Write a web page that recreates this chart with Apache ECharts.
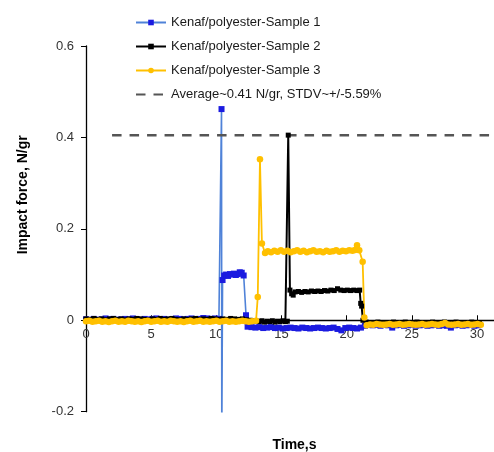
<!DOCTYPE html>
<html>
<head>
<meta charset="utf-8">
<script src="https://cdn.jsdelivr.net/npm/echarts@6/dist/echarts.min.js"></script>
<style>html,body{margin:0;padding:0;background:#fff;}#c{width:494px;height:452px;}</style>
</head>
<body>
<div id="c"></div>
<script>
// ---- data (time in s, impact force in N/gr) ----
const seriesNames = ['Kenaf/polyester-Sample 1','Kenaf/polyester-Sample 2','Kenaf/polyester-Sample 3','Average~0.41 N/gr, STDV~+/-5.59%'];
const xTicks = [0, 5, 10, 15, 20, 25, 30];
const yTicks = [-0.2, 0, 0.2, 0.4, 0.6];
const averageValue = 0.405;
const averageSpan = [2.0, 31.1];

const sample1 = [
  [0,0.002],[0.3,0.001],[0.6,0.003],[0.9,0.001],[1.2,0.002],[1.5,0.004],[1.8,0.002],[2.1,0.003],[2.4,0.001],[2.7,0.002],
  [3.0,0.003],[3.3,0.002],[3.6,0.004],[3.9,0.002],[4.2,0.001],[4.5,0.003],[4.8,0.002],[5.1,0.003],[5.4,0.004],[5.7,0.002],
  [6.0,0.003],[6.3,0.001],[6.6,0.002],[6.9,0.004],[7.2,0.003],[7.5,0.002],[7.8,0.003],[8.1,0.004],[8.4,0.002],[8.7,0.003],
  [9.0,0.005],[9.3,0.004],[9.6,0.003],[9.9,0.004],[10.2,0.003],
  [10.4,0.462],[10.42,-0.26],[10.48,0.088],[10.6,0.098],[10.75,0.1],[10.9,0.097],[11.05,0.101],[11.2,0.1],[11.35,0.102],
  [11.5,0.099],[11.65,0.101],[11.8,0.105],[11.95,0.104],[12.1,0.098],[12.28,0.011],[12.4,-0.014],
  [12.7,-0.015],[13.0,-0.016],[13.3,-0.015],[13.6,-0.017],[13.9,-0.016],[14.2,-0.015],[14.5,-0.017],[14.8,-0.016],[15.1,-0.018],
  [15.4,-0.017],[15.7,-0.016],[16.0,-0.017],[16.3,-0.018],[16.6,-0.016],[16.9,-0.017],[17.2,-0.018],[17.5,-0.017],[17.8,-0.016],
  [18.1,-0.017],[18.4,-0.018],[18.7,-0.017],[19.0,-0.016],[19.3,-0.019],[19.6,-0.022],[19.9,-0.017],[20.2,-0.016],[20.5,-0.017],
  [20.8,-0.018],[21.1,-0.016],[21.4,-0.012],[21.7,-0.010],
  [22.0,-0.011],[22.3,-0.010],[22.6,-0.012],[22.9,-0.010],[23.2,-0.011],[23.5,-0.016],[23.8,-0.011],[24.1,-0.010],[24.4,-0.012],
  [24.7,-0.011],[25.0,-0.010],[25.3,-0.012],[25.6,-0.011],[25.9,-0.010],[26.2,-0.012],[26.5,-0.011],[26.8,-0.010],[27.1,-0.012],
  [27.4,-0.011],[27.7,-0.012],[28.0,-0.016],[28.3,-0.011],[28.6,-0.010],[28.9,-0.012],[29.2,-0.011],[29.5,-0.010],[29.8,-0.012],[30.1,-0.011]
];

const sample2 = [
  [0,0.003],[0.3,0.002],[0.6,0.004],[0.9,0.002],[1.2,0.003],[1.5,0.001],[1.8,0.003],[2.1,0.004],[2.4,0.002],[2.7,0.003],
  [3.0,0.001],[3.3,0.003],[3.6,0.002],[3.9,0.004],[4.2,0.003],[4.5,0.002],[4.8,0.001],[5.1,0.003],[5.4,0.002],[5.7,0.004],
  [6.0,0.002],[6.3,0.003],[6.6,0.004],[6.9,0.002],[7.2,0.001],[7.5,0.003],[7.8,0.002],[8.1,0.003],[8.4,0.004],[8.7,0.002],
  [9.0,0.003],[9.3,0.002],[9.6,0.004],[9.9,0.003],[10.2,0.002],[10.5,0.003],[10.8,0.002],[11.1,0.004],[11.4,0.003],[11.7,0.002],
  [12.0,0.003],[12.3,0.001],[12.6,0.000],[12.9,-0.001],
  [13.1,-0.002],[13.3,-0.003],[13.5,-0.001],[13.7,-0.004],[13.9,-0.002],[14.1,-0.003],[14.3,-0.001],[14.5,-0.004],[14.7,-0.002],
  [14.9,-0.003],[15.1,-0.001],[15.3,-0.003],[15.45,-0.002],
  [15.52,0.405],[15.65,0.066],[15.78,0.058],[15.9,0.055],[16.05,0.062],[16.3,0.063],[16.55,0.061],[16.8,0.063],[17.05,0.062],
  [17.3,0.064],[17.55,0.063],[17.8,0.064],[18.05,0.063],[18.3,0.065],[18.55,0.064],[18.8,0.066],[19.05,0.065],[19.3,0.069],
  [19.55,0.066],[19.8,0.065],[20.05,0.066],[20.3,0.065],[20.55,0.066],[20.8,0.065],[21.0,0.066],
  [21.08,0.037],[21.15,0.031],[21.25,0.000],[21.5,-0.004],
  [21.8,-0.005],[22.1,-0.006],[22.4,-0.004],[22.7,-0.005],[23.0,-0.006],[23.3,-0.005],[23.6,-0.004],[23.9,-0.006],[24.2,-0.005],
  [24.5,-0.004],[24.8,-0.006],[25.1,-0.005],[25.4,-0.004],[25.7,-0.005],[26.0,-0.006],[26.3,-0.005],[26.6,-0.004],[26.9,-0.006],
  [27.2,-0.005],[27.5,-0.004],[27.8,-0.005],[28.1,-0.006],[28.4,-0.004],[28.7,-0.005],[29.0,-0.006],[29.3,-0.005],[29.6,-0.004],
  [29.9,-0.005],[30.2,-0.006]
];

const sample3 = [
  [0,-0.002],[0.25,-0.001],[0.5,-0.003],[0.75,-0.002],[1.0,-0.001],[1.25,-0.003],[1.5,-0.002],[1.75,-0.004],[2.0,-0.002],
  [2.25,-0.001],[2.5,-0.003],[2.75,-0.002],[3.0,-0.003],[3.25,-0.001],[3.5,-0.002],[3.75,-0.003],[4.0,-0.002],[4.25,-0.004],
  [4.5,-0.002],[4.75,-0.001],[5.0,-0.003],[5.25,-0.002],[5.5,-0.001],[5.75,-0.003],[6.0,-0.002],[6.25,-0.003],[6.5,-0.001],
  [6.75,-0.002],[7.0,-0.003],[7.25,-0.002],[7.5,-0.004],[7.75,-0.002],[8.0,-0.001],[8.25,-0.003],[8.5,-0.002],[8.75,-0.001],
  [9.0,-0.003],[9.25,-0.002],[9.5,-0.003],[9.75,-0.002],[10.0,-0.001],[10.25,-0.003],[10.5,-0.002],[10.75,-0.001],[11.0,-0.003],
  [11.25,-0.002],[11.5,-0.003],[11.75,-0.002],[12.0,-0.001],[12.25,-0.002],[12.5,-0.003],[12.75,-0.002],[13.05,-0.001],
  [13.18,0.051],[13.35,0.352],[13.5,0.168],[13.74,0.147],[13.95,0.151],[14.2,0.149],[14.45,0.152],[14.7,0.150],[14.95,0.153],
  [15.2,0.150],[15.45,0.152],[15.7,0.149],[15.95,0.151],[16.2,0.153],[16.45,0.150],[16.7,0.152],[16.95,0.149],[17.2,0.151],
  [17.45,0.153],[17.7,0.150],[17.95,0.151],[18.2,0.149],[18.45,0.152],[18.7,0.150],[18.95,0.151],[19.2,0.153],[19.45,0.150],
  [19.7,0.152],[19.95,0.151],[20.2,0.153],[20.45,0.152],[20.65,0.154],[20.8,0.164],[20.97,0.153],[21.23,0.128],[21.36,0.006],
  [21.54,-0.011],[21.8,-0.009],[22.05,-0.010],[22.3,-0.008],[22.55,-0.009],[22.8,-0.010],[23.05,-0.009],[23.3,-0.008],
  [23.55,-0.010],[23.8,-0.009],[24.05,-0.008],[24.3,-0.010],[24.55,-0.009],[24.8,-0.008],[25.05,-0.009],[25.3,-0.010],
  [25.55,-0.009],[25.8,-0.008],[26.05,-0.010],[26.3,-0.009],[26.55,-0.008],[26.8,-0.009],[27.05,-0.010],[27.3,-0.008],
  [27.55,-0.006],[27.8,-0.009],[28.05,-0.010],[28.3,-0.009],[28.55,-0.008],[28.8,-0.010],[29.05,-0.009],[29.3,-0.008],
  [29.55,-0.010],[29.8,-0.009],[30.05,-0.008],[30.3,-0.010]
];

const averageLine = [[averageSpan[0], averageValue], [averageSpan[1], averageValue]];

// ---- chart ----
const FONT = 'Liberation Sans, Arial, sans-serif';
const GRID_TOP = 46, GRID_H = 365.7;
const yMin = -0.2, yMax = 0.6;
// shift the x axis up so it sits on y = 0 (line, ticks and labels together)
const xAxisOffset = -GRID_H * (0 - yMin) / (yMax - yMin);

const chart = echarts.init(document.getElementById('c'), null, {renderer: 'canvas'});
chart.setOption({
  animation: false,
  backgroundColor: '#fff',
  textStyle: {fontFamily: FONT},
  legend: {
    orient: 'vertical',
    left: 130,
    top: 11,
    itemWidth: 30,
    itemHeight: 7,
    itemGap: 11,
    textStyle: {fontFamily: FONT, fontSize: 13, color: '#1a1a1a'},
    data: [
      seriesNames[0], seriesNames[1], seriesNames[2],
      {name: seriesNames[3], itemStyle: {color: 'rgba(0,0,0,0)', borderWidth: 0}}
    ]
  },
  grid: {left: 86, top: GRID_TOP, width: 417, height: GRID_H, outerBoundsMode: 'none', containLabel: false},
  xAxis: {
    type: 'value',
    min: 0, max: 32, interval: 5,
    offset: xAxisOffset,
    name: 'Time,s',
    nameLocation: 'middle',
    nameGap: 118,
    nameTextStyle: {fontFamily: FONT, fontSize: 14, fontWeight: 'bold', color: '#000'},
    axisLine: {show: true, onZero: false, lineStyle: {color: '#000', width: 1.3}},
    axisTick: {show: true, inside: true, length: 5, lineStyle: {color: '#000'}},
    axisLabel: {margin: 8, fontSize: 13, color: '#333', fontFamily: FONT, showMaxLabel: false,
      formatter: v => xTicks.indexOf(v) >= 0 ? String(v) : ''},
    splitLine: {show: false}
  },
  yAxis: {
    type: 'value',
    min: yMin, max: yMax, interval: 0.2,
    name: 'Impact force, N/gr',
    nameLocation: 'middle',
    nameGap: 56,
    nameTextStyle: {fontFamily: FONT, fontSize: 14, fontWeight: 'bold', color: '#000', padding: [0, 0, 0, 68]},
    axisLine: {show: true, onZero: false, lineStyle: {color: '#000', width: 1.3}},
    axisTick: {show: true, inside: false, length: 5, lineStyle: {color: '#000'}},
    axisLabel: {margin: 12, fontSize: 13, color: '#333', fontFamily: FONT,
      formatter: v => { const t = yTicks.find(k => Math.abs(k - v) < 1e-9); return t === undefined ? '' : (t === 0 ? '0' : t.toFixed(1)); }},
    splitLine: {show: false}
  },
  series: [
    {
      name: seriesNames[0], type: 'line', data: sample1, clip: true,
      symbol: 'rect', symbolSize: 6, showSymbol: true,
      lineStyle: {color: '#4f82d8', width: 1.6},
      itemStyle: {color: '#1b1be0'}
    },
    {
      name: seriesNames[1], type: 'line', data: sample2, clip: true,
      symbol: 'rect', symbolSize: 5, showSymbol: true,
      lineStyle: {color: '#000', width: 2},
      itemStyle: {color: '#000'}
    },
    {
      name: seriesNames[2], type: 'line', data: sample3, clip: true,
      symbol: 'circle', symbolSize: 6.5, showSymbol: true,
      lineStyle: {color: '#ffc000', width: 1.8},
      itemStyle: {color: '#ffc000'}
    },
    {
      name: seriesNames[3], type: 'line', data: averageLine, clip: false,
      symbol: 'none',
      lineStyle: {color: '#555555', width: 2.5, type: [9.5, 8]},
      itemStyle: {color: '#555555'}
    }
  ]
});
</script>
</body>
</html>
